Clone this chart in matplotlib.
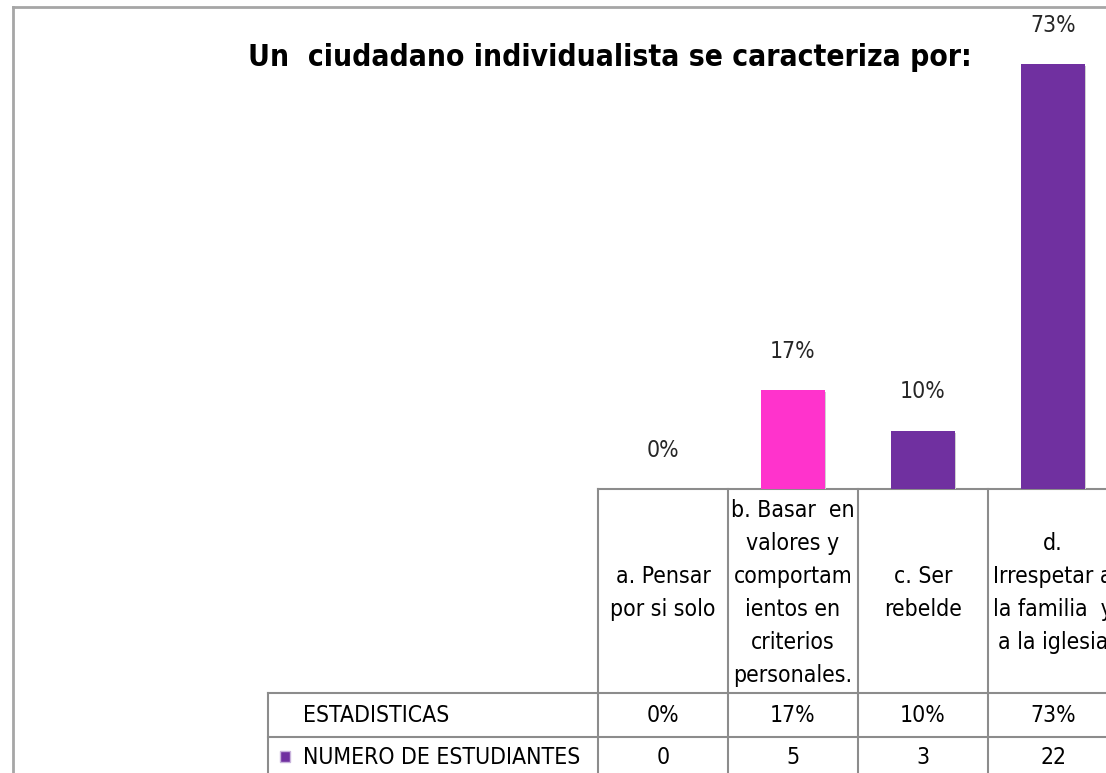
import matplotlib
matplotlib.use("Agg")
import matplotlib.pyplot as plt
from matplotlib.patches import Rectangle

# Daten
kategorien = ["a. Pensar\npor si solo",
              "b. Basar  en\nvalores y\ncomportam\nientos en\ncriterios\npersonales.",
              "c. Ser\nrebelde",
              "d.\nIrrespetar a\nla familia  y\na la iglesia"]
estudiantes = [0, 5, 3, 22]
prozent = [round(100.0 * n / sum(estudiantes)) for n in estudiantes]
farben = ["#7030A0", "#FF33CC", "#7030A0", "#7030A0"]
titel = "Un  ciudadano individualista se caracteriza por:"
zeile1 = "ESTADISTICAS"
zeile2 = "NUMERO DE ESTUDIANTES"

plt.rcParams['font.family'] = ["DejaVu Sans"]
plt.rcParams['font.stretch'] = "condensed"

W, H = 1106, 773
fig = plt.figure(figsize=(W / 100, H / 100), dpi=100)

# Hintergrund-Achse in Pixelkoordinaten (Tabelle, Rahmen, Titel)
bg = fig.add_axes([0, 0, 1, 1])
bg.set_xlim(0, W)
bg.set_ylim(H, 0)
bg.axis("off")

# Geometrie
x0 = 598        # linke Kante der Kategorien
cw = 130        # Spaltenbreite
y_base = 489    # Grundlinie der Balken
y_r1 = 693
y_r2 = 737
x_tab = 268
fs = 16.5

# Balken-Achse
n = len(kategorien)
ax = fig.add_axes([x0 / W, (H - y_base) / H, n * cw / W, y_base / H])
ax.set_xlim(-0.5, n - 0.5)
ax.set_ylim(0, 84)
ax.axis("off")
bars = ax.bar(range(n), prozent, width=0.49, color=farben, zorder=3)
for i, b in enumerate(bars):
    # kleiner Schatten wie in Excel
    ax.bar(i + 0.012, prozent[i], width=0.49, bottom=-0.3, color="#d0d0d0", zorder=2)
    ax.annotate(str(prozent[i]) + "%", (i, prozent[i]), xytext=(0, 28),
                textcoords="offset points", ha="center", va="center",
                fontsize=fs, color="#262626")

# Rahmen des Diagramms
lc = "#8c8c8c"
bg.plot([13, 13], [7, H], color="#a6a6a6", lw=2)
bg.plot([13, W], [7, 7], color="#a6a6a6", lw=2)

# Titel
bg.text(610, 57, titel, ha="center", va="center", fontsize=21.5, fontweight="bold", color="black")

# Tabelle
bg.plot([x0, W + 20], [y_base, y_base], color=lc, lw=1.5)
bg.plot([x_tab, W + 20], [y_r1, y_r1], color=lc, lw=1.5)
bg.plot([x_tab, W + 20], [y_r2, y_r2], color=lc, lw=1.5)
bg.plot([x_tab, x_tab], [y_r1, H], color=lc, lw=1.5)
for i in range(n + 1):
    xs = x0 + i * cw
    bg.plot([xs, xs], [y_base, H], color=lc, lw=1.5)

for i in range(n):
    xc = x0 + (i + 0.5) * cw
    bg.text(xc, 593, kategorien[i], ha="center", va="center", fontsize=fs,
            linespacing=1.55, color="black")
    bg.text(xc, 715, str(prozent[i]) + "%", ha="center", va="center", fontsize=fs, color="black")
    bg.text(xc, 757, str(estudiantes[i]), ha="center", va="center", fontsize=fs, color="black")

bg.text(303, 715, zeile1, ha="left", va="center", fontsize=fs, color="black")
bg.text(303, 757, zeile2, ha="left", va="center", fontsize=fs, color="black")
bg.add_patch(Rectangle((280, 751), 10, 11, facecolor="#7030A0", edgecolor="#c9b3dc", lw=1))

fig.savefig("out.png", dpi=100)
